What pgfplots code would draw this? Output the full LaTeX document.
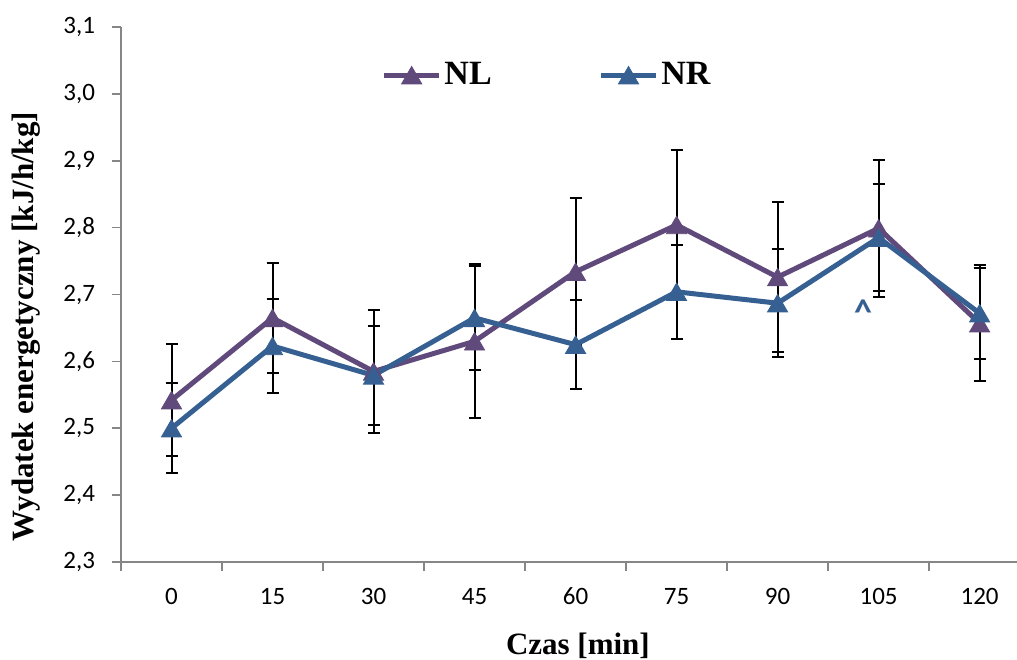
\documentclass[border=0pt]{standalone}
\usepackage{fontspec}
\setmainfont{Carlito}
\newfontfamily\titlefont{Liberation Serif}
\usepackage{pgfplots}
\usepackage{pgfplotstable}
\pgfplotsset{compat=1.18}

\definecolor{nlcol}{RGB}{96,74,123}
\definecolor{nrcol}{RGB}{54,96,146}
\definecolor{axgray}{RGB}{134,134,134}

% x = time index (0..8 -> 0..120 min), NL and NR with their error
\pgfplotstableread{
x  nl     enl    nr     enr
0  2.542  0.084  2.500  0.067
1  2.665  0.082  2.623  0.070
2  2.585  0.092  2.579  0.074
3  2.630  0.115  2.665  0.078
4  2.734  0.110  2.625  0.067
5  2.804  0.112  2.704  0.070
6  2.726  0.112  2.687  0.081
7  2.799  0.102  2.785  0.080
8  2.657  0.087  2.672  0.068
}\data

\newcommand{\titlefnt}{\titlefont\bfseries\fontsize{15.5}{18}\selectfont}

\begin{document}
\begin{tikzpicture}
\path[use as bounding box] (-60.5pt,-48.5pt) rectangle (448pt,281pt);
\begin{axis}[
    scale only axis,
    width=448pt, height=267.5pt,
    xmin=-0.5, xmax=8.37,
    ymin=2.3, ymax=3.1,
    axis x line*=bottom, axis y line*=left,
    axis line style={axgray, line width=0.8pt},
    tick align=outside,
    major tick length=4.5pt, minor tick length=4.5pt,
    xtick={0,...,8},
    xticklabels={0,15,30,45,60,75,90,105,120},
    minor xtick={-0.5,0.5,1.5,2.5,3.5,4.5,5.5,6.5,7.5},
    major x tick style={draw=none},
    minor x tick style={axgray, line width=0.8pt},
    ytick={2.3,2.4,2.5,2.6,2.7,2.8,2.9,3.0,3.1},
    major y tick style={axgray, line width=0.8pt},
    tick label style={font=\fontsize{12.5}{14}\selectfont},
    xticklabel style={yshift=-5pt},
    yticklabel style={xshift=-5pt,
        /pgf/number format/use comma,
        /pgf/number format/fixed,
        /pgf/number format/fixed zerofill,
        /pgf/number format/precision=1},
    /pgf/number format/assume math mode=true,
    xlabel={Czas [min]},
    xlabel style={font=\titlefnt, at={(axis description cs:0.51,-0.156)}, anchor=center},
    ylabel={Wydatek energetyczny [kJ/h/kg]},
    ylabel style={font=\titlefnt, at={(axis description cs:-0.106,0.44)}, anchor=center},
    legend columns=2,
    legend style={draw=none, fill=none,
        at={(axis description cs:0.284,0.91)}, anchor=west,
        font=\titlefont\bfseries\fontsize{17}{19}\selectfont,
        nodes={inner sep=1.5pt},
        /tikz/every even column/.append style={column sep=52pt}},
    legend image code/.code={
        \draw[mark repeat=2, mark phase=2]
        plot coordinates {(0cm,0cm) (0.48cm,0cm) (0.96cm,0cm)};},
]
    % error bars first, so lines and markers sit on top
    \addplot[forget plot, draw=none, mark=none,
        error bars/.cd, y dir=both, y explicit, error mark=-,
        error bar style={draw=black, line width=1pt},
        error mark options={draw=black, line width=1pt, mark size=3pt, rotate=90}]
        table[x=x, y=nl, y error=enl] {\data};
    \addplot[forget plot, draw=none, mark=none,
        error bars/.cd, y dir=both, y explicit, error mark=-,
        error bar style={draw=black, line width=1pt},
        error mark options={draw=black, line width=1pt, mark size=3pt, rotate=90}]
        table[x=x, y=nr, y error=enr] {\data};

    \addplot[nlcol, line width=2.5pt, mark=triangle*, mark size=5.8pt,
        mark options={solid, line width=0.4pt, yshift=-1.45pt}]
        table[x=x, y=nl] {\data};
    \addlegendentry{NL}
    \addplot[nrcol, line width=2.5pt, mark=triangle*, mark size=5.8pt,
        mark options={solid, line width=0.4pt, yshift=-1.45pt}]
        table[x=x, y=nr] {\data};
    \addlegendentry{NR}

    \node[text=nrcol, font=\bfseries\fontsize{18}{18}\selectfont, inner sep=0pt, yshift=-2pt]
        at (axis cs:6.846,2.68) {\textasciicircum};
\end{axis}
\end{tikzpicture}
\end{document}
